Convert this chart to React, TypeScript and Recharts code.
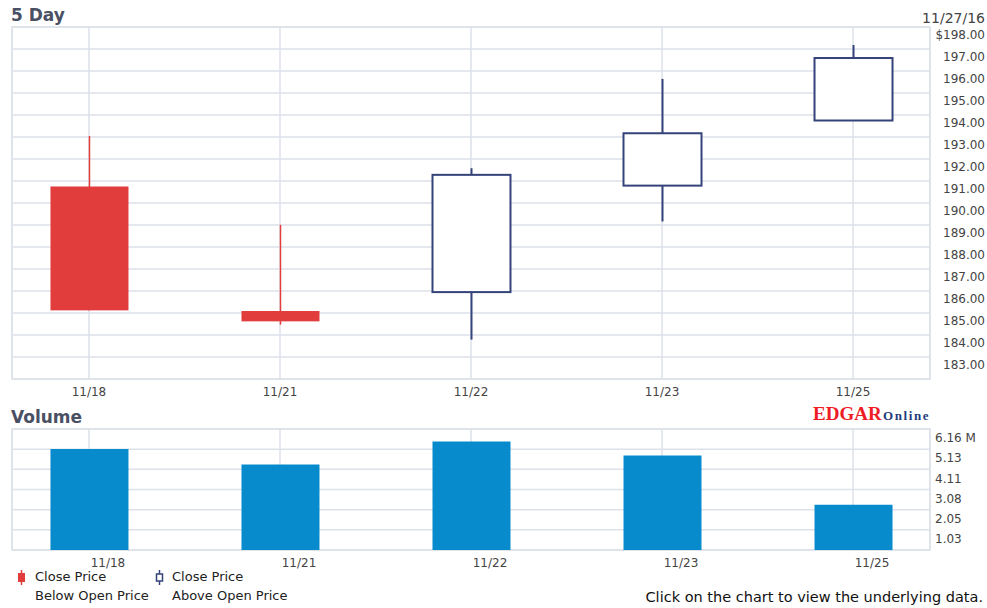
import { ComposedChart, BarChart, Bar, XAxis, YAxis, CartesianGrid, ReferenceArea } from "recharts"

// ---- data ----
const days = ["11/18", "11/21", "11/22", "11/23", "11/25"]
const openPrices = [190.75, 185.09, 185.95, 190.79, 193.75]
const closePrices = [185.12, 184.62, 191.28, 193.17, 196.59]
const highPrices = [193.05, 189.01, 191.58, 195.64, 197.18]
const lowPrices = [185.12, 184.47, 183.79, 189.16, 193.75]
const volumesM = [5.14, 4.35, 5.53, 4.81, 2.31]

const priceTicks = [182, 183, 184, 185, 186, 187, 188, 189, 190, 191, 192, 193, 194, 195, 196, 197, 198]
const volumeTicks = [0, 1.0267, 2.0533, 3.08, 4.1067, 5.1333, 6.16]

const rows = days.map((day, i) => ({
  i,
  day,
  open: openPrices[i],
  close: closePrices[i],
  high: highPrices[i],
  low: lowPrices[i],
  range: [lowPrices[i], highPrices[i]],
  volume: volumesM[i],
}))

const RED = "#e23d3d"
const NAVY = "#34437a"
const BLUE = "#078bcd"
const GRID = "#dde2ea"
const FONT = "DejaVu Sans, Verdana, sans-serif"
const X_DOMAIN = [-0.403, 4.403]

function Candle(props: any) {
  const { x, y, width, height, payload } = props
  const { open, close, high, low } = payload
  const y0 = Math.min(y, y + height)
  const h = Math.abs(height)
  const span = high - low || 1
  const py = (v: number) => y0 + ((high - v) / span) * h
  const cx = x + width / 2
  const top = py(Math.max(open, close))
  const bot = py(Math.min(open, close))
  const up = close >= open
  return (
    <g>
      <line x1={cx} x2={cx} y1={y0} y2={y0 + h} stroke={up ? NAVY : RED} strokeWidth={up ? 2 : 1.5} />
      <rect
        x={x}
        y={top}
        width={width}
        height={Math.max(bot - top, 1)}
        fill={up ? "#fff" : RED}
        stroke={up ? NAVY : "none"}
        strokeWidth={2}
      />
    </g>
  )
}

function DayTick({ x, y, payload, shift = 0 }: any) {
  return (
    <text x={x + shift} y={y + 13} dy="0.35em" textAnchor="middle" fontSize={12} fontFamily={FONT} fill="#444">
      {days[payload.value]}
    </text>
  )
}

function PriceTick({ x, y, payload }: any) {
  if (payload.value === 182) return null
  const label = payload.value === 198 ? "$198.00" : payload.value.toFixed(2)
  return (
    <text x={x + 55} y={y + 8} dy="0.35em" textAnchor="end" fontSize={12} fontFamily={FONT} fill="#444">
      {label}
    </text>
  )
}

function VolumeTick({ x, y, payload }: any) {
  if (payload.value === 0) return null
  const label = payload.value === 6.16 ? "6.16 M" : payload.value.toFixed(2)
  return (
    <text x={x + 5} y={y + 9} dy="0.35em" textAnchor="start" fontSize={12} fontFamily={FONT} fill="#444">
      {label}
    </text>
  )
}

export default function App() {
  return (
    <div style={{ position: "absolute", left: 0, top: 0, width: 987, height: 608, background: "#fff" }}>
      <div style={{ position: "absolute", left: 0, top: 0 }}>
        <ComposedChart width={987} height={400} data={rows} margin={{ top: 27, right: 0, left: 12, bottom: 0 }}>
          <CartesianGrid stroke={GRID} strokeWidth={1.5} />
          <XAxis
            type="number"
            dataKey="i"
            domain={X_DOMAIN}
            ticks={[0, 1, 2, 3, 4]}
            allowDataOverflow
            height={21}
            axisLine={false}
            tickLine={false}
            tickSize={0}
            tickMargin={0}
            interval={0}
            tick={<DayTick />}
          />
          <YAxis
            orientation="right"
            type="number"
            domain={[182, 198]}
            ticks={priceTicks}
            allowDataOverflow
            width={57}
            axisLine={false}
            tickLine={false}
            tickSize={0}
            tickMargin={0}
            interval={0}
            tick={<PriceTick />}
          />
          <ReferenceArea x1={X_DOMAIN[0]} x2={X_DOMAIN[1]} y1={182} y2={198} fill="none" stroke={GRID} strokeWidth={1.5} ifOverflow="visible" />
          <Bar dataKey="range" barSize={78} shape={<Candle />} isAnimationActive={false} />
        </ComposedChart>
      </div>

      <div style={{ position: "absolute", left: 0, top: 420 }}>
        <BarChart width={987} height={160} data={rows} margin={{ top: 9, right: 0, left: 12, bottom: 0 }}>
          <CartesianGrid stroke={GRID} strokeWidth={1.5} />
          <XAxis
            type="number"
            dataKey="i"
            domain={X_DOMAIN}
            ticks={[0, 1, 2, 3, 4]}
            allowDataOverflow
            height={30}
            axisLine={false}
            tickLine={false}
            tickSize={0}
            tickMargin={0}
            interval={0}
            tick={<DayTick shift={19} />}
          />
          <YAxis
            orientation="right"
            type="number"
            domain={[0, 6.16]}
            ticks={volumeTicks}
            allowDataOverflow
            width={57}
            axisLine={false}
            tickLine={false}
            tickSize={0}
            tickMargin={0}
            interval={0}
            tick={<VolumeTick />}
          />
          <ReferenceArea x1={X_DOMAIN[0]} x2={X_DOMAIN[1]} y1={0} y2={6.16} fill="none" stroke={GRID} strokeWidth={1.5} ifOverflow="visible" />
          <Bar dataKey="volume" barSize={78} fill={BLUE} isAnimationActive={false} />
        </BarChart>
      </div>

      <svg width={987} height={608} style={{ position: "absolute", left: 0, top: 0, pointerEvents: "none" }}>
        <text x={11} y={21} fontSize={17} fontWeight="bold" fontFamily={FONT} fill="#4a5064">5 Day</text>
        <text x={985} y={23} textAnchor="end" fontSize={14} fontFamily={FONT} fill="#444">11/27/16</text>
        <text x={11} y={423} fontSize={17} fontWeight="bold" fontFamily={FONT} fill="#4a5064">Volume</text>
        <text x={813} y={420} fontSize={19} fontWeight="bold" fontFamily="Liberation Serif, serif" fill="#ee1c25" letterSpacing={0}>EDGAR</text>
        <text x={883} y={420} fontSize={13} fontWeight="bold" fontFamily="Liberation Serif, serif" fill="#1e3c7c" letterSpacing={1.6}>Online</text>

        {/* legend */}
        <line x1={21.5} x2={21.5} y1={570} y2={585} stroke={RED} strokeWidth={1.5} />
        <rect x={18} y={573} width={7} height={9} fill={RED} />
        <text x={35} y={581} fontSize={13} fontFamily={FONT} fill="#222">Close Price</text>
        <text x={35} y={599.5} fontSize={13} fontFamily={FONT} fill="#222">Below Open Price</text>

        <line x1={159.5} x2={159.5} y1={570} y2={585} stroke={NAVY} strokeWidth={1.5} />
        <rect x={156.5} y={574} width={6} height={7} fill="#fff" stroke={NAVY} strokeWidth={1.5} />
        <text x={172} y={581} fontSize={13} fontFamily={FONT} fill="#222">Close Price</text>
        <text x={172} y={599.5} fontSize={13} fontFamily={FONT} fill="#222">Above Open Price</text>

        <text x={983} y={602} textAnchor="end" fontSize={14.5} fontFamily={FONT} fill="#111">Click on the chart to view the underlying data.</text>
      </svg>
    </div>
  )
}
